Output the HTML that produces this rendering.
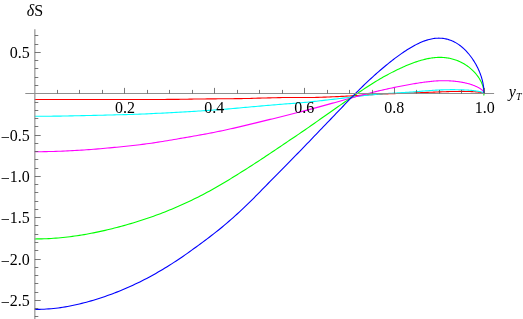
<!DOCTYPE html>
<html><head><meta charset="utf-8"><style>
html,body{margin:0;padding:0;background:#fff;}
svg{display:block;will-change:transform;}
text{font-family:"Liberation Serif",serif;font-size:16px;fill:#000;}
</style></head><body>
<svg width="523" height="319" viewBox="0 0 523 319">
<rect width="523" height="319" fill="#fff"/>
<g><path d="M34.60,99.49 L36.96,99.49 L39.32,99.49 L41.68,99.49 L44.04,99.49 L46.40,99.49 L48.76,99.49 L51.12,99.49 L53.48,99.49 L55.84,99.48 L58.20,99.48 L60.56,99.48 L62.91,99.48 L65.27,99.47 L67.62,99.47 L69.98,99.47 L72.33,99.48 L74.68,99.48 L77.03,99.48 L79.38,99.48 L81.73,99.49 L84.08,99.49 L86.42,99.49 L88.77,99.49 L91.11,99.49 L93.45,99.49 L95.79,99.49 L98.13,99.49 L100.47,99.49 L102.80,99.49 L105.13,99.49 L107.47,99.49 L109.79,99.49 L112.12,99.49 L114.45,99.49 L116.77,99.49 L119.09,99.49 L121.41,99.49 L123.72,99.49 L126.03,99.49 L128.34,99.50 L130.65,99.50 L132.96,99.50 L135.26,99.50 L137.56,99.50 L139.85,99.50 L142.15,99.50 L144.44,99.50 L146.73,99.49 L149.01,99.49 L151.29,99.48 L153.57,99.48 L155.85,99.47 L158.12,99.46 L160.39,99.46 L162.65,99.45 L164.91,99.44 L167.17,99.42 L169.42,99.41 L171.67,99.40 L173.92,99.38 L176.16,99.35 L178.40,99.33 L180.64,99.29 L182.87,99.26 L185.09,99.22 L187.32,99.18 L189.54,99.14 L191.75,99.11 L193.96,99.07 L196.16,99.04 L198.37,99.02 L200.56,98.99 L202.75,98.97 L204.94,98.94 L207.12,98.92 L209.30,98.90 L211.47,98.88 L213.64,98.86 L215.80,98.84 L217.96,98.82 L220.12,98.79 L222.26,98.77 L224.41,98.75 L226.54,98.73 L228.68,98.72 L230.80,98.70 L232.92,98.68 L235.04,98.66 L237.15,98.64 L239.25,98.62 L241.35,98.60 L243.45,98.57 L245.53,98.54 L247.62,98.49 L249.69,98.44 L251.76,98.37 L253.83,98.31 L255.88,98.24 L257.94,98.17 L259.98,98.10 L262.02,98.04 L264.05,97.99 L266.08,97.93 L268.10,97.88 L270.12,97.83 L272.12,97.78 L274.12,97.73 L276.12,97.68 L278.11,97.64 L280.09,97.60 L282.06,97.56 L284.03,97.52 L285.99,97.49 L287.94,97.47 L289.89,97.45 L291.83,97.44 L293.76,97.44 L295.69,97.45 L297.60,97.48 L299.51,97.50 L301.42,97.52 L303.31,97.54 L305.20,97.55 L307.08,97.55 L308.96,97.53 L310.82,97.51 L312.68,97.47 L314.53,97.43 L316.38,97.39 L318.21,97.34 L320.04,97.28 L321.86,97.23 L323.67,97.17 L325.47,97.10 L327.27,97.04 L329.06,96.97 L330.84,96.90 L332.61,96.82 L334.37,96.75 L336.13,96.67 L337.87,96.59 L339.61,96.50 L341.34,96.42 L343.06,96.33 L344.77,96.24 L346.48,96.14 L348.17,96.05 L349.86,95.95 L351.54,95.86 L353.21,95.76 L354.87,95.66 L356.52,95.56 L358.16,95.46 L359.80,95.36 L361.42,95.26 L363.04,95.17 L364.64,95.07 L366.24,94.97 L367.83,94.88 L369.41,94.79 L370.98,94.70 L372.54,94.61 L374.09,94.52 L375.64,94.44 L377.17,94.36 L378.69,94.28 L380.21,94.20 L381.71,94.13 L383.20,94.06 L384.69,93.99 L386.17,93.93 L387.63,93.87 L389.09,93.81 L390.53,93.75 L391.97,93.69 L393.40,93.64 L394.81,93.59 L396.22,93.54 L397.62,93.49 L399.00,93.44 L400.38,93.39 L401.75,93.34 L403.10,93.30 L404.45,93.25 L405.78,93.20 L407.11,93.16 L408.43,93.11 L409.73,93.07 L411.03,93.02 L412.31,92.97 L413.58,92.93 L414.85,92.88 L416.10,92.84 L417.34,92.79 L418.58,92.74 L419.80,92.70 L421.01,92.65 L422.21,92.60 L423.40,92.56 L424.58,92.51 L425.74,92.46 L426.90,92.41 L428.05,92.37 L429.18,92.32 L430.31,92.27 L431.42,92.22 L432.52,92.18 L433.62,92.13 L434.70,92.09 L435.77,92.05 L436.82,92.00 L437.87,91.96 L438.91,91.92 L439.93,91.88 L440.95,91.85 L441.95,91.81 L442.94,91.77 L443.92,91.74 L444.89,91.71 L445.85,91.68 L446.79,91.65 L447.73,91.62 L448.65,91.60 L449.57,91.57 L450.47,91.55 L451.35,91.53 L452.23,91.51 L453.10,91.50 L453.95,91.48 L454.80,91.47 L455.63,91.45 L456.45,91.44 L457.26,91.43 L458.05,91.43 L458.84,91.42 L459.61,91.42 L460.37,91.41 L461.12,91.41 L461.86,91.41 L462.58,91.41 L463.30,91.42 L464.00,91.42 L464.69,91.43 L465.37,91.44 L466.04,91.44 L466.69,91.46 L467.34,91.47 L467.97,91.48 L468.59,91.49 L469.19,91.51 L469.79,91.53 L470.37,91.55 L470.94,91.58 L471.50,91.60 L472.05,91.63 L472.58,91.66 L473.10,91.69 L473.62,91.72 L474.11,91.75 L474.60,91.79 L475.07,91.82 L475.54,91.85 L475.99,91.89 L476.42,91.93 L476.85,91.96 L477.26,92.00 L477.66,92.04 L478.05,92.08 L478.43,92.12 L478.79,92.16 L479.15,92.20 L479.49,92.25 L479.81,92.29 L480.13,92.34 L480.43,92.38 L480.72,92.43 L481.00,92.47 L481.27,92.52 L481.52,92.56 L481.76,92.61 L481.99,92.66 L482.21,92.71 L482.41,92.75 L482.61,92.80 L482.79,92.85 L482.95,92.90 L483.11,92.95 L483.25,92.99 L483.38,93.04 L483.50,93.09 L483.60,93.14 L483.70,93.19 L483.78,93.24 L483.84,93.29 L483.90,93.35 L483.94,93.40 L483.98,93.45 L483.99,93.50 L484.00,93.55" fill="none" stroke="#ff0000" stroke-width="1.1" stroke-linejoin="round"/>
<path d="M34.60,116.27 L36.96,116.27 L39.32,116.26 L41.68,116.26 L44.04,116.25 L46.40,116.23 L48.76,116.22 L51.12,116.20 L53.48,116.17 L55.84,116.15 L58.20,116.12 L60.56,116.08 L62.91,116.04 L65.27,116.00 L67.62,115.95 L69.98,115.90 L72.33,115.85 L74.68,115.80 L77.03,115.75 L79.38,115.70 L81.73,115.65 L84.08,115.61 L86.42,115.56 L88.77,115.51 L91.11,115.46 L93.45,115.40 L95.79,115.35 L98.13,115.30 L100.47,115.24 L102.80,115.18 L105.13,115.13 L107.47,115.07 L109.79,115.01 L112.12,114.94 L114.45,114.88 L116.77,114.82 L119.09,114.76 L121.41,114.70 L123.72,114.64 L126.03,114.58 L128.34,114.52 L130.65,114.45 L132.96,114.38 L135.26,114.30 L137.56,114.22 L139.85,114.13 L142.15,114.04 L144.44,113.94 L146.73,113.84 L149.01,113.74 L151.29,113.63 L153.57,113.52 L155.85,113.42 L158.12,113.30 L160.39,113.19 L162.65,113.08 L164.91,112.96 L167.17,112.84 L169.42,112.72 L171.67,112.60 L173.92,112.48 L176.16,112.36 L178.40,112.24 L180.64,112.11 L182.87,111.99 L185.09,111.86 L187.32,111.74 L189.54,111.61 L191.75,111.48 L193.96,111.34 L196.16,111.21 L198.37,111.07 L200.56,110.93 L202.75,110.78 L204.94,110.64 L207.12,110.49 L209.30,110.34 L211.47,110.19 L213.64,110.04 L215.80,109.89 L217.96,109.73 L220.12,109.57 L222.26,109.41 L224.41,109.25 L226.54,109.08 L228.68,108.91 L230.80,108.73 L232.92,108.54 L235.04,108.35 L237.15,108.15 L239.25,107.95 L241.35,107.75 L243.45,107.56 L245.53,107.36 L247.62,107.18 L249.69,106.99 L251.76,106.81 L253.83,106.62 L255.88,106.44 L257.94,106.26 L259.98,106.09 L262.02,105.91 L264.05,105.73 L266.08,105.55 L268.10,105.38 L270.12,105.20 L272.12,105.03 L274.12,104.85 L276.12,104.68 L278.11,104.51 L280.09,104.35 L282.06,104.19 L284.03,104.03 L285.99,103.88 L287.94,103.74 L289.89,103.60 L291.83,103.47 L293.76,103.33 L295.69,103.20 L297.60,103.05 L299.51,102.90 L301.42,102.73 L303.31,102.56 L305.20,102.38 L307.08,102.19 L308.96,102.00 L310.82,101.80 L312.68,101.60 L314.53,101.40 L316.38,101.19 L318.21,100.99 L320.04,100.78 L321.86,100.58 L323.67,100.37 L325.47,100.17 L327.27,99.96 L329.06,99.76 L330.84,99.56 L332.61,99.35 L334.37,99.15 L336.13,98.95 L337.87,98.74 L339.61,98.54 L341.34,98.33 L343.06,98.13 L344.77,97.92 L346.48,97.71 L348.17,97.50 L349.86,97.30 L351.54,97.09 L353.21,96.89 L354.87,96.69 L356.52,96.49 L358.16,96.30 L359.80,96.10 L361.42,95.92 L363.04,95.74 L364.64,95.56 L366.24,95.39 L367.83,95.22 L369.41,95.06 L370.98,94.90 L372.54,94.75 L374.09,94.60 L375.64,94.46 L377.17,94.32 L378.69,94.19 L380.21,94.06 L381.71,93.94 L383.20,93.82 L384.69,93.71 L386.17,93.60 L387.63,93.49 L389.09,93.39 L390.53,93.29 L391.97,93.20 L393.40,93.11 L394.81,93.02 L396.22,92.93 L397.62,92.85 L399.00,92.77 L400.38,92.69 L401.75,92.61 L403.10,92.53 L404.45,92.44 L405.78,92.36 L407.11,92.28 L408.43,92.20 L409.73,92.11 L411.03,92.02 L412.31,91.93 L413.58,91.84 L414.85,91.75 L416.10,91.66 L417.34,91.56 L418.58,91.47 L419.80,91.37 L421.01,91.27 L422.21,91.17 L423.40,91.07 L424.58,90.98 L425.74,90.88 L426.90,90.79 L428.05,90.69 L429.18,90.61 L430.31,90.52 L431.42,90.44 L432.52,90.36 L433.62,90.29 L434.70,90.22 L435.77,90.16 L436.82,90.10 L437.87,90.04 L438.91,89.99 L439.93,89.94 L440.95,89.90 L441.95,89.86 L442.94,89.83 L443.92,89.80 L444.89,89.77 L445.85,89.74 L446.79,89.72 L447.73,89.71 L448.65,89.69 L449.57,89.68 L450.47,89.67 L451.35,89.67 L452.23,89.66 L453.10,89.66 L453.95,89.66 L454.80,89.67 L455.63,89.68 L456.45,89.69 L457.26,89.70 L458.05,89.71 L458.84,89.73 L459.61,89.75 L460.37,89.77 L461.12,89.79 L461.86,89.81 L462.58,89.84 L463.30,89.86 L464.00,89.89 L464.69,89.93 L465.37,89.96 L466.04,89.99 L466.69,90.03 L467.34,90.07 L467.97,90.11 L468.59,90.15 L469.19,90.19 L469.79,90.23 L470.37,90.28 L470.94,90.34 L471.50,90.39 L472.05,90.45 L472.58,90.50 L473.10,90.56 L473.62,90.62 L474.11,90.68 L474.60,90.74 L475.07,90.80 L475.54,90.86 L475.99,90.93 L476.42,90.99 L476.85,91.05 L477.26,91.12 L477.66,91.19 L478.05,91.25 L478.43,91.32 L478.79,91.39 L479.15,91.46 L479.49,91.53 L479.81,91.60 L480.13,91.67 L480.43,91.74 L480.72,91.81 L481.00,91.88 L481.27,91.96 L481.52,92.03 L481.76,92.11 L481.99,92.18 L482.21,92.25 L482.41,92.33 L482.61,92.40 L482.79,92.48 L482.95,92.55 L483.11,92.63 L483.25,92.70 L483.38,92.78 L483.50,92.85 L483.60,92.93 L483.70,93.01 L483.78,93.08 L483.84,93.16 L483.90,93.24 L483.94,93.32 L483.98,93.39 L483.99,93.47 L484.00,93.55" fill="none" stroke="#00ffff" stroke-width="1.1" stroke-linejoin="round"/>
<path d="M34.60,151.71 L36.96,151.71 L39.32,151.70 L41.68,151.68 L44.04,151.65 L46.40,151.61 L48.76,151.57 L51.12,151.52 L53.48,151.45 L55.84,151.38 L58.20,151.30 L60.56,151.21 L62.91,151.12 L65.27,151.01 L67.62,150.90 L69.98,150.79 L72.33,150.67 L74.68,150.54 L77.03,150.41 L79.38,150.26 L81.73,150.12 L84.08,149.96 L86.42,149.80 L88.77,149.63 L91.11,149.45 L93.45,149.27 L95.79,149.08 L98.13,148.89 L100.47,148.69 L102.80,148.49 L105.13,148.28 L107.47,148.07 L109.79,147.85 L112.12,147.63 L114.45,147.41 L116.77,147.19 L119.09,146.96 L121.41,146.73 L123.72,146.50 L126.03,146.26 L128.34,146.01 L130.65,145.77 L132.96,145.51 L135.26,145.25 L137.56,144.98 L139.85,144.70 L142.15,144.42 L144.44,144.12 L146.73,143.81 L149.01,143.50 L151.29,143.17 L153.57,142.84 L155.85,142.49 L158.12,142.15 L160.39,141.79 L162.65,141.43 L164.91,141.06 L167.17,140.69 L169.42,140.32 L171.67,139.94 L173.92,139.56 L176.16,139.17 L178.40,138.79 L180.64,138.40 L182.87,138.01 L185.09,137.62 L187.32,137.23 L189.54,136.84 L191.75,136.45 L193.96,136.06 L196.16,135.67 L198.37,135.28 L200.56,134.89 L202.75,134.50 L204.94,134.10 L207.12,133.69 L209.30,133.28 L211.47,132.87 L213.64,132.45 L215.80,132.02 L217.96,131.58 L220.12,131.14 L222.26,130.69 L224.41,130.23 L226.54,129.77 L228.68,129.30 L230.80,128.82 L232.92,128.34 L235.04,127.86 L237.15,127.37 L239.25,126.88 L241.35,126.38 L243.45,125.89 L245.53,125.39 L247.62,124.89 L249.69,124.39 L251.76,123.89 L253.83,123.39 L255.88,122.89 L257.94,122.39 L259.98,121.89 L262.02,121.39 L264.05,120.89 L266.08,120.39 L268.10,119.90 L270.12,119.40 L272.12,118.91 L274.12,118.42 L276.12,117.93 L278.11,117.44 L280.09,116.95 L282.06,116.46 L284.03,115.97 L285.99,115.48 L287.94,115.00 L289.89,114.51 L291.83,114.03 L293.76,113.55 L295.69,113.06 L297.60,112.58 L299.51,112.09 L301.42,111.61 L303.31,111.12 L305.20,110.62 L307.08,110.12 L308.96,109.62 L310.82,109.12 L312.68,108.62 L314.53,108.11 L316.38,107.61 L318.21,107.11 L320.04,106.60 L321.86,106.10 L323.67,105.61 L325.47,105.11 L327.27,104.62 L329.06,104.12 L330.84,103.64 L332.61,103.15 L334.37,102.66 L336.13,102.18 L337.87,101.70 L339.61,101.22 L341.34,100.74 L343.06,100.27 L344.77,99.79 L346.48,99.32 L348.17,98.85 L349.86,98.38 L351.54,97.92 L353.21,97.46 L354.87,97.00 L356.52,96.55 L358.16,96.11 L359.80,95.67 L361.42,95.23 L363.04,94.80 L364.64,94.38 L366.24,93.97 L367.83,93.56 L369.41,93.16 L370.98,92.77 L372.54,92.38 L374.09,92.00 L375.64,91.63 L377.17,91.27 L378.69,90.91 L380.21,90.56 L381.71,90.21 L383.20,89.87 L384.69,89.54 L386.17,89.21 L387.63,88.89 L389.09,88.57 L390.53,88.26 L391.97,87.96 L393.40,87.66 L394.81,87.36 L396.22,87.07 L397.62,86.78 L399.00,86.50 L400.38,86.23 L401.75,85.96 L403.10,85.69 L404.45,85.44 L405.78,85.19 L407.11,84.94 L408.43,84.70 L409.73,84.47 L411.03,84.24 L412.31,84.02 L413.58,83.81 L414.85,83.60 L416.10,83.39 L417.34,83.20 L418.58,83.01 L419.80,82.82 L421.01,82.64 L422.21,82.47 L423.40,82.30 L424.58,82.14 L425.74,81.99 L426.90,81.84 L428.05,81.71 L429.18,81.58 L430.31,81.46 L431.42,81.34 L432.52,81.24 L433.62,81.15 L434.70,81.06 L435.77,80.99 L436.82,80.92 L437.87,80.86 L438.91,80.82 L439.93,80.78 L440.95,80.75 L441.95,80.73 L442.94,80.71 L443.92,80.71 L444.89,80.71 L445.85,80.73 L446.79,80.74 L447.73,80.77 L448.65,80.81 L449.57,80.85 L450.47,80.90 L451.35,80.95 L452.23,81.02 L453.10,81.09 L453.95,81.16 L454.80,81.25 L455.63,81.33 L456.45,81.43 L457.26,81.53 L458.05,81.63 L458.84,81.74 L459.61,81.86 L460.37,81.98 L461.12,82.10 L461.86,82.23 L462.58,82.37 L463.30,82.50 L464.00,82.64 L464.69,82.79 L465.37,82.94 L466.04,83.09 L466.69,83.25 L467.34,83.41 L467.97,83.57 L468.59,83.73 L469.19,83.90 L469.79,84.07 L470.37,84.25 L470.94,84.44 L471.50,84.63 L472.05,84.82 L472.58,85.02 L473.10,85.21 L473.62,85.41 L474.11,85.60 L474.60,85.80 L475.07,85.99 L475.54,86.19 L475.99,86.39 L476.42,86.59 L476.85,86.79 L477.26,86.99 L477.66,87.18 L478.05,87.38 L478.43,87.58 L478.79,87.78 L479.15,87.98 L479.49,88.18 L479.81,88.39 L480.13,88.59 L480.43,88.79 L480.72,88.99 L481.00,89.19 L481.27,89.39 L481.52,89.59 L481.76,89.79 L481.99,89.99 L482.21,90.19 L482.41,90.38 L482.61,90.58 L482.79,90.78 L482.95,90.98 L483.11,91.17 L483.25,91.37 L483.38,91.57 L483.50,91.77 L483.60,91.97 L483.70,92.16 L483.78,92.36 L483.84,92.56 L483.90,92.76 L483.94,92.96 L483.98,93.15 L483.99,93.35 L484.00,93.55" fill="none" stroke="#ff00ff" stroke-width="1.1" stroke-linejoin="round"/>
<path d="M34.60,238.93 L36.96,238.92 L39.32,238.89 L41.68,238.85 L44.04,238.78 L46.40,238.69 L48.76,238.59 L51.12,238.46 L53.48,238.32 L55.84,238.15 L58.20,237.96 L60.56,237.75 L62.91,237.51 L65.27,237.26 L67.62,236.98 L69.98,236.69 L72.33,236.38 L74.68,236.05 L77.03,235.71 L79.38,235.36 L81.73,234.98 L84.08,234.59 L86.42,234.18 L88.77,233.76 L91.11,233.32 L93.45,232.86 L95.79,232.39 L98.13,231.90 L100.47,231.40 L102.80,230.88 L105.13,230.35 L107.47,229.80 L109.79,229.25 L112.12,228.67 L114.45,228.09 L116.77,227.48 L119.09,226.87 L121.41,226.24 L123.72,225.60 L126.03,224.95 L128.34,224.28 L130.65,223.61 L132.96,222.92 L135.26,222.22 L137.56,221.51 L139.85,220.79 L142.15,220.05 L144.44,219.30 L146.73,218.54 L149.01,217.76 L151.29,216.97 L153.57,216.16 L155.85,215.34 L158.12,214.50 L160.39,213.64 L162.65,212.78 L164.91,211.89 L167.17,211.00 L169.42,210.08 L171.67,209.16 L173.92,208.22 L176.16,207.26 L178.40,206.29 L180.64,205.31 L182.87,204.31 L185.09,203.30 L187.32,202.27 L189.54,201.23 L191.75,200.17 L193.96,199.10 L196.16,198.01 L198.37,196.91 L200.56,195.79 L202.75,194.65 L204.94,193.50 L207.12,192.34 L209.30,191.16 L211.47,189.97 L213.64,188.76 L215.80,187.54 L217.96,186.30 L220.12,185.05 L222.26,183.78 L224.41,182.51 L226.54,181.23 L228.68,179.93 L230.80,178.63 L232.92,177.33 L235.04,176.02 L237.15,174.71 L239.25,173.40 L241.35,172.08 L243.45,170.76 L245.53,169.44 L247.62,168.11 L249.69,166.79 L251.76,165.46 L253.83,164.12 L255.88,162.79 L257.94,161.45 L259.98,160.11 L262.02,158.77 L264.05,157.42 L266.08,156.07 L268.10,154.73 L270.12,153.38 L272.12,152.04 L274.12,150.70 L276.12,149.36 L278.11,148.02 L280.09,146.69 L282.06,145.36 L284.03,144.03 L285.99,142.71 L287.94,141.40 L289.89,140.08 L291.83,138.78 L293.76,137.48 L295.69,136.18 L297.60,134.89 L299.51,133.60 L301.42,132.31 L303.31,131.02 L305.20,129.72 L307.08,128.42 L308.96,127.11 L310.82,125.81 L312.68,124.50 L314.53,123.19 L316.38,121.89 L318.21,120.59 L320.04,119.29 L321.86,118.01 L323.67,116.73 L325.47,115.45 L327.27,114.19 L329.06,112.94 L330.84,111.69 L332.61,110.46 L334.37,109.23 L336.13,108.01 L337.87,106.80 L339.61,105.59 L341.34,104.40 L343.06,103.21 L344.77,102.03 L346.48,100.85 L348.17,99.68 L349.86,98.52 L351.54,97.37 L353.21,96.23 L354.87,95.10 L356.52,93.98 L358.16,92.87 L359.80,91.77 L361.42,90.68 L363.04,89.61 L364.64,88.55 L366.24,87.50 L367.83,86.47 L369.41,85.45 L370.98,84.45 L372.54,83.47 L374.09,82.50 L375.64,81.55 L377.17,80.62 L378.69,79.71 L380.21,78.82 L381.71,77.95 L383.20,77.10 L384.69,76.27 L386.17,75.45 L387.63,74.66 L389.09,73.88 L390.53,73.12 L391.97,72.38 L393.40,71.66 L394.81,70.95 L396.22,70.25 L397.62,69.58 L399.00,68.92 L400.38,68.27 L401.75,67.65 L403.10,67.03 L404.45,66.44 L405.78,65.86 L407.11,65.30 L408.43,64.75 L409.73,64.23 L411.03,63.72 L412.31,63.23 L413.58,62.76 L414.85,62.30 L416.10,61.87 L417.34,61.45 L418.58,61.05 L419.80,60.68 L421.01,60.32 L422.21,59.98 L423.40,59.66 L424.58,59.36 L425.74,59.09 L426.90,58.83 L428.05,58.60 L429.18,58.38 L430.31,58.19 L431.42,58.02 L432.52,57.87 L433.62,57.74 L434.70,57.63 L435.77,57.54 L436.82,57.47 L437.87,57.42 L438.91,57.39 L439.93,57.38 L440.95,57.39 L441.95,57.42 L442.94,57.47 L443.92,57.54 L444.89,57.63 L445.85,57.73 L446.79,57.85 L447.73,57.99 L448.65,58.14 L449.57,58.32 L450.47,58.50 L451.35,58.71 L452.23,58.93 L453.10,59.16 L453.95,59.41 L454.80,59.68 L455.63,59.95 L456.45,60.24 L457.26,60.55 L458.05,60.87 L458.84,61.20 L459.61,61.54 L460.37,61.89 L461.12,62.26 L461.86,62.64 L462.58,63.02 L463.30,63.42 L464.00,63.83 L464.69,64.24 L465.37,64.67 L466.04,65.10 L466.69,65.55 L467.34,66.00 L467.97,66.45 L468.59,66.92 L469.19,67.39 L469.79,67.87 L470.37,68.35 L470.94,68.84 L471.50,69.34 L472.05,69.84 L472.58,70.34 L473.10,70.85 L473.62,71.36 L474.11,71.88 L474.60,72.40 L475.07,72.92 L475.54,73.45 L475.99,73.98 L476.42,74.51 L476.85,75.04 L477.26,75.58 L477.66,76.11 L478.05,76.65 L478.43,77.19 L478.79,77.73 L479.15,78.27 L479.49,78.82 L479.81,79.36 L480.13,79.91 L480.43,80.45 L480.72,81.00 L481.00,81.55 L481.27,82.09 L481.52,82.64 L481.76,83.18 L481.99,83.73 L482.21,84.28 L482.41,84.83 L482.61,85.37 L482.79,85.92 L482.95,86.47 L483.11,87.01 L483.25,87.56 L483.38,88.10 L483.50,88.65 L483.60,89.19 L483.70,89.74 L483.78,90.28 L483.84,90.83 L483.90,91.37 L483.94,91.92 L483.98,92.46 L483.99,93.01 L484.00,93.55 L483.80,95.55" fill="none" stroke="#00ff00" stroke-width="1.1" stroke-linejoin="round"/>
<path d="M34.60,309.42 L36.96,309.41 L39.32,309.37 L41.68,309.30 L44.04,309.20 L46.40,309.07 L48.76,308.92 L51.12,308.73 L53.48,308.50 L55.84,308.25 L58.20,307.96 L60.56,307.63 L62.91,307.27 L65.27,306.88 L67.62,306.46 L69.98,306.01 L72.33,305.53 L74.68,305.03 L77.03,304.51 L79.38,303.97 L81.73,303.40 L84.08,302.81 L86.42,302.19 L88.77,301.55 L91.11,300.89 L93.45,300.20 L95.79,299.49 L98.13,298.75 L100.47,298.00 L102.80,297.22 L105.13,296.42 L107.47,295.60 L109.79,294.77 L112.12,293.91 L114.45,293.03 L116.77,292.12 L119.09,291.20 L121.41,290.25 L123.72,289.28 L126.03,288.28 L128.34,287.27 L130.65,286.23 L132.96,285.18 L135.26,284.10 L137.56,283.01 L139.85,281.89 L142.15,280.75 L144.44,279.58 L146.73,278.40 L149.01,277.19 L151.29,275.95 L153.57,274.69 L155.85,273.41 L158.12,272.10 L160.39,270.77 L162.65,269.42 L164.91,268.06 L167.17,266.67 L169.42,265.27 L171.67,263.85 L173.92,262.41 L176.16,260.95 L178.40,259.47 L180.64,257.97 L182.87,256.44 L185.09,254.90 L187.32,253.33 L189.54,251.75 L191.75,250.16 L193.96,248.55 L196.16,246.94 L198.37,245.32 L200.56,243.70 L202.75,242.08 L204.94,240.45 L207.12,238.82 L209.30,237.19 L211.47,235.54 L213.64,233.88 L215.80,232.19 L217.96,230.48 L220.12,228.74 L222.26,226.97 L224.41,225.18 L226.54,223.37 L228.68,221.54 L230.80,219.68 L232.92,217.81 L235.04,215.92 L237.15,214.02 L239.25,212.09 L241.35,210.15 L243.45,208.18 L245.53,206.20 L247.62,204.19 L249.69,202.17 L251.76,200.12 L253.83,198.06 L255.88,195.98 L257.94,193.90 L259.98,191.81 L262.02,189.72 L264.05,187.64 L266.08,185.57 L268.10,183.50 L270.12,181.45 L272.12,179.41 L274.12,177.37 L276.12,175.35 L278.11,173.34 L280.09,171.33 L282.06,169.33 L284.03,167.34 L285.99,165.35 L287.94,163.37 L289.89,161.39 L291.83,159.41 L293.76,157.44 L295.69,155.47 L297.60,153.50 L299.51,151.53 L301.42,149.57 L303.31,147.61 L305.20,145.66 L307.08,143.71 L308.96,141.76 L310.82,139.83 L312.68,137.89 L314.53,135.97 L316.38,134.05 L318.21,132.14 L320.04,130.24 L321.86,128.35 L323.67,126.46 L325.47,124.59 L327.27,122.72 L329.06,120.85 L330.84,119.00 L332.61,117.15 L334.37,115.31 L336.13,113.48 L337.87,111.65 L339.61,109.84 L341.34,108.04 L343.06,106.25 L344.77,104.47 L346.48,102.70 L348.17,100.95 L349.86,99.21 L351.54,97.49 L353.21,95.79 L354.87,94.10 L356.52,92.43 L358.16,90.79 L359.80,89.17 L361.42,87.57 L363.04,85.99 L364.64,84.44 L366.24,82.91 L367.83,81.41 L369.41,79.93 L370.98,78.48 L372.54,77.05 L374.09,75.64 L375.64,74.26 L377.17,72.91 L378.69,71.58 L380.21,70.27 L381.71,68.98 L383.20,67.72 L384.69,66.48 L386.17,65.26 L387.63,64.06 L389.09,62.89 L390.53,61.74 L391.97,60.61 L393.40,59.51 L394.81,58.43 L396.22,57.37 L397.62,56.34 L399.00,55.33 L400.38,54.35 L401.75,53.39 L403.10,52.46 L404.45,51.55 L405.78,50.67 L407.11,49.82 L408.43,49.00 L409.73,48.20 L411.03,47.43 L412.31,46.68 L413.58,45.97 L414.85,45.28 L416.10,44.63 L417.34,44.00 L418.58,43.40 L419.80,42.84 L421.01,42.30 L422.21,41.80 L423.40,41.32 L424.58,40.89 L425.74,40.48 L426.90,40.11 L428.05,39.77 L429.18,39.46 L430.31,39.18 L431.42,38.94 L432.52,38.74 L433.62,38.56 L434.70,38.42 L435.77,38.31 L436.82,38.23 L437.87,38.18 L438.91,38.17 L439.93,38.18 L440.95,38.22 L441.95,38.30 L442.94,38.40 L443.92,38.53 L444.89,38.70 L445.85,38.88 L446.79,39.10 L447.73,39.34 L448.65,39.61 L449.57,39.90 L450.47,40.22 L451.35,40.57 L452.23,40.93 L453.10,41.33 L453.95,41.74 L454.80,42.17 L455.63,42.63 L456.45,43.11 L457.26,43.60 L458.05,44.12 L458.84,44.66 L459.61,45.21 L460.37,45.78 L461.12,46.37 L461.86,46.97 L462.58,47.59 L463.30,48.22 L464.00,48.87 L464.69,49.53 L465.37,50.20 L466.04,50.89 L466.69,51.59 L467.34,52.30 L467.97,53.01 L468.59,53.74 L469.19,54.48 L469.79,55.23 L470.37,55.98 L470.94,56.73 L471.50,57.50 L472.05,58.27 L472.58,59.04 L473.10,59.82 L473.62,60.60 L474.11,61.39 L474.60,62.18 L475.07,62.98 L475.54,63.77 L475.99,64.57 L476.42,65.38 L476.85,66.18 L477.26,66.99 L477.66,67.80 L478.05,68.60 L478.43,69.41 L478.79,70.22 L479.15,71.03 L479.49,71.84 L479.81,72.65 L480.13,73.46 L480.43,74.27 L480.72,75.08 L481.00,75.89 L481.27,76.70 L481.52,77.51 L481.76,78.32 L481.99,79.12 L482.21,79.93 L482.41,80.74 L482.61,81.55 L482.79,82.35 L482.95,83.16 L483.11,83.96 L483.25,84.76 L483.38,85.57 L483.50,86.37 L483.60,87.17 L483.70,87.97 L483.78,88.77 L483.84,89.56 L483.90,90.36 L483.94,91.16 L483.98,91.96 L483.99,92.75 L484.00,93.55" fill="none" stroke="#0000ff" stroke-width="1.1" stroke-linejoin="round"/></g>
<g><line x1="25.3" y1="93.5" x2="494.1" y2="93.5" stroke="#8e8e8e" stroke-width="1"/>
<line x1="34.85" y1="29.3" x2="34.85" y2="319" stroke="#929292" stroke-width="1.2"/>
<line x1="57.50" y1="93.50" x2="57.50" y2="89.90" stroke="#555555" stroke-width="0.8"/>
<line x1="79.50" y1="93.50" x2="79.50" y2="89.90" stroke="#555555" stroke-width="0.8"/>
<line x1="102.50" y1="93.50" x2="102.50" y2="89.90" stroke="#555555" stroke-width="0.8"/>
<line x1="124.50" y1="93.50" x2="124.50" y2="87.90" stroke="#555555" stroke-width="0.8"/>
<line x1="147.50" y1="93.50" x2="147.50" y2="89.90" stroke="#555555" stroke-width="0.8"/>
<line x1="169.50" y1="93.50" x2="169.50" y2="89.90" stroke="#555555" stroke-width="0.8"/>
<line x1="192.50" y1="93.50" x2="192.50" y2="89.90" stroke="#555555" stroke-width="0.8"/>
<line x1="214.50" y1="93.50" x2="214.50" y2="87.90" stroke="#555555" stroke-width="0.8"/>
<line x1="237.50" y1="93.50" x2="237.50" y2="89.90" stroke="#555555" stroke-width="0.8"/>
<line x1="259.50" y1="93.50" x2="259.50" y2="89.90" stroke="#555555" stroke-width="0.8"/>
<line x1="282.50" y1="93.50" x2="282.50" y2="89.90" stroke="#555555" stroke-width="0.8"/>
<line x1="304.50" y1="93.50" x2="304.50" y2="87.90" stroke="#555555" stroke-width="0.8"/>
<line x1="327.50" y1="93.50" x2="327.50" y2="89.90" stroke="#555555" stroke-width="0.8"/>
<line x1="349.50" y1="93.50" x2="349.50" y2="89.90" stroke="#555555" stroke-width="0.8"/>
<line x1="372.50" y1="93.50" x2="372.50" y2="89.90" stroke="#555555" stroke-width="0.8"/>
<line x1="394.50" y1="93.50" x2="394.50" y2="87.90" stroke="#555555" stroke-width="0.8"/>
<line x1="416.50" y1="93.50" x2="416.50" y2="89.90" stroke="#555555" stroke-width="0.8"/>
<line x1="439.50" y1="93.50" x2="439.50" y2="89.90" stroke="#555555" stroke-width="0.8"/>
<line x1="461.50" y1="93.50" x2="461.50" y2="89.90" stroke="#555555" stroke-width="0.8"/>
<line x1="484.50" y1="93.50" x2="484.50" y2="87.90" stroke="#555555" stroke-width="0.8"/>
<line x1="34.80" y1="316.50" x2="38.30" y2="316.50" stroke="#555555" stroke-width="0.8"/>
<line x1="34.80" y1="308.50" x2="38.30" y2="308.50" stroke="#555555" stroke-width="0.8"/>
<line x1="34.80" y1="300.50" x2="40.70" y2="300.50" stroke="#555555" stroke-width="0.8"/>
<line x1="34.80" y1="292.50" x2="38.30" y2="292.50" stroke="#555555" stroke-width="0.8"/>
<line x1="34.80" y1="283.50" x2="38.30" y2="283.50" stroke="#555555" stroke-width="0.8"/>
<line x1="34.80" y1="275.50" x2="38.30" y2="275.50" stroke="#555555" stroke-width="0.8"/>
<line x1="34.80" y1="267.50" x2="38.30" y2="267.50" stroke="#555555" stroke-width="0.8"/>
<line x1="34.80" y1="259.50" x2="40.70" y2="259.50" stroke="#555555" stroke-width="0.8"/>
<line x1="34.80" y1="250.50" x2="38.30" y2="250.50" stroke="#555555" stroke-width="0.8"/>
<line x1="34.80" y1="242.50" x2="38.30" y2="242.50" stroke="#555555" stroke-width="0.8"/>
<line x1="34.80" y1="234.50" x2="38.30" y2="234.50" stroke="#555555" stroke-width="0.8"/>
<line x1="34.80" y1="225.50" x2="38.30" y2="225.50" stroke="#555555" stroke-width="0.8"/>
<line x1="34.80" y1="217.50" x2="40.70" y2="217.50" stroke="#555555" stroke-width="0.8"/>
<line x1="34.80" y1="209.50" x2="38.30" y2="209.50" stroke="#555555" stroke-width="0.8"/>
<line x1="34.80" y1="201.50" x2="38.30" y2="201.50" stroke="#555555" stroke-width="0.8"/>
<line x1="34.80" y1="192.50" x2="38.30" y2="192.50" stroke="#555555" stroke-width="0.8"/>
<line x1="34.80" y1="184.50" x2="38.30" y2="184.50" stroke="#555555" stroke-width="0.8"/>
<line x1="34.80" y1="176.50" x2="40.70" y2="176.50" stroke="#555555" stroke-width="0.8"/>
<line x1="34.80" y1="168.50" x2="38.30" y2="168.50" stroke="#555555" stroke-width="0.8"/>
<line x1="34.80" y1="159.50" x2="38.30" y2="159.50" stroke="#555555" stroke-width="0.8"/>
<line x1="34.80" y1="151.50" x2="38.30" y2="151.50" stroke="#555555" stroke-width="0.8"/>
<line x1="34.80" y1="143.50" x2="38.30" y2="143.50" stroke="#555555" stroke-width="0.8"/>
<line x1="34.80" y1="135.50" x2="40.70" y2="135.50" stroke="#555555" stroke-width="0.8"/>
<line x1="34.80" y1="126.50" x2="38.30" y2="126.50" stroke="#555555" stroke-width="0.8"/>
<line x1="34.80" y1="118.50" x2="38.30" y2="118.50" stroke="#555555" stroke-width="0.8"/>
<line x1="34.80" y1="110.50" x2="38.30" y2="110.50" stroke="#555555" stroke-width="0.8"/>
<line x1="34.80" y1="102.50" x2="38.30" y2="102.50" stroke="#555555" stroke-width="0.8"/>
<line x1="34.80" y1="85.50" x2="38.30" y2="85.50" stroke="#555555" stroke-width="0.8"/>
<line x1="34.80" y1="77.50" x2="38.30" y2="77.50" stroke="#555555" stroke-width="0.8"/>
<line x1="34.80" y1="68.50" x2="38.30" y2="68.50" stroke="#555555" stroke-width="0.8"/>
<line x1="34.80" y1="60.50" x2="38.30" y2="60.50" stroke="#555555" stroke-width="0.8"/>
<line x1="34.80" y1="52.50" x2="40.70" y2="52.50" stroke="#555555" stroke-width="0.8"/>
<line x1="34.80" y1="44.50" x2="38.30" y2="44.50" stroke="#555555" stroke-width="0.8"/>
<line x1="34.80" y1="35.50" x2="38.30" y2="35.50" stroke="#555555" stroke-width="0.8"/></g>
<g><text x="124.89" y="112.9" text-anchor="middle">0.2</text>
<text x="214.28" y="112.9" text-anchor="middle">0.4</text>
<text x="304.22" y="112.9" text-anchor="middle">0.6</text>
<text x="394.21" y="112.9" text-anchor="middle">0.8</text>
<text x="484.85" y="112.9" text-anchor="middle">1.0</text>
<text x="29.8" y="58.13" text-anchor="end">0.5</text>
<text x="29.8" y="140.77" text-anchor="end"><tspan dy="1.8">−</tspan><tspan dy="-1.8">0.5</tspan></text>
<text x="29.8" y="182.08" text-anchor="end"><tspan dy="1.8">−</tspan><tspan dy="-1.8">1.0</tspan></text>
<text x="29.8" y="223.40" text-anchor="end"><tspan dy="1.8">−</tspan><tspan dy="-1.8">1.5</tspan></text>
<text x="29.8" y="264.71" text-anchor="end"><tspan dy="1.8">−</tspan><tspan dy="-1.8">2.0</tspan></text>
<text x="29.8" y="306.02" text-anchor="end"><tspan dy="1.8">−</tspan><tspan dy="-1.8">2.5</tspan></text>
<text x="26.8" y="16.2"><tspan font-style="italic">δ</tspan>S</text>
<text x="508.8" y="97.2" font-style="italic">y<tspan font-size="10" dy="2.3">T</tspan></text></g>
</svg></body></html>
